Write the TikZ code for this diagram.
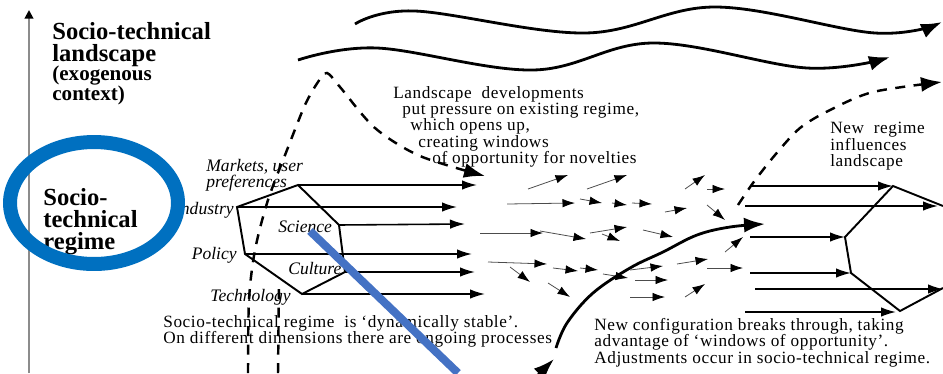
\documentclass[tikz,border=0pt]{standalone}
\usepackage{fontspec}
\setmainfont{Liberation Serif}
\newfontfamily\notefont[LetterSpace=3.5,Ligatures=TeX]{Liberation Serif}
\usetikzlibrary{arrows.meta}
\usetikzlibrary{positioning}

\begin{document}
\begin{tikzpicture}[x=0.02cm,y=-0.02cm]

	\tikzset{wave/.style = {line width=1.6pt,-{Latex[length=0.42cm,width=0.3cm]}}}
	\tikzset{hexline/.style = {line width=1.1pt,line join=miter}}
	\tikzset{edge/.style = {line width=0.9pt,-{Latex[length=0.3cm,width=0.19cm]}}}
	\tikzset{small/.style = {line width=0.45pt,black!70,-{Latex[length=0.25cm,width=0.17cm,color=black]}}}
	\tikzset{dashy/.style = {line width=1.4pt,dash pattern=on 0.2cm off 0.17cm}}
	\tikzset{axis/.style = {line width=1.1pt,black!45,-{Triangle[length=0.17cm,width=0.17cm,color=black]}}}
	\tikzset{dimlabel/.style = {inner sep=0pt,align=left,font=\fontsize{10}{9}\itshape}}
	\tikzset{note/.style = {inner sep=0pt,align=left,anchor=north west,font=\notefont\fontsize{9.8}{9.3}\selectfont}}
	\tikzset{level/.style = {inner sep=0pt,align=left,anchor=north west,font=\fontsize{14}{12.5}\bfseries}}
	\definecolor{ringblue}{RGB}{0,112,192}
	\definecolor{penblue}{RGB}{68,114,196}

	\useasboundingbox (0,0) rectangle (943,373);

	% axis
	\coordinate (ax0) at (29,373);
	\coordinate (ax1) at (29,10);
	\draw[axis] (ax0) -- (ax1);

	% level labels
	\node[level] (land) at (52,22) {Socio-technical\\landscape};
	\node[level,font=\fontsize{12}{11.3}\bfseries] (exo) at (52,66) {(exogenous\\context)};
	\node[level] (regime) at (43,188) {Socio-\\technical\\regime};

	% notes
	\node[note] (press) at (393,86) {Landscape~ developments\\
		\hspace*{0.18cm}put pressure on existing regime,\\
		\hspace*{0.34cm}which opens up,\\
		\hspace*{0.5cm}creating windows\\
		\hspace*{0.78cm}of opportunity for novelties};
	\node[note] (newreg) at (830,122) {New~ regime\\influences\\landscape};
	\node[note] (stable) at (163,315) {Socio-technical regime~ is ‘dynamically stable’.\\On different dimensions there are ongoing processes};
	\node[note] (config) at (594,318) {New configuration breaks through, taking\\advantage of ‘windows of opportunity’.\\Adjustments occur in socio-technical regime.};

	% dimensions
	\node[dimlabel,anchor=west] (mkt) at (206,175) {Markets, user\\preferences};
	\node[dimlabel,anchor=east] (ind) at (234,210) {Industry};
	\node[dimlabel,anchor=east] (pol) at (237,255) {Policy};
	\node[dimlabel,anchor=west] (sci) at (278,227) {Science};
	\node[dimlabel,anchor=west] (cul) at (288,268) {Culture};
	\node[dimlabel,anchor=west] (tec) at (210,297) {Technology};

	% landscape waves
	\draw[wave] plot[smooth,tension=0.6] coordinates {(355,24) (415,11) (585,33) (715,7) (875,33) (942,22)};
	\draw[wave] plot[smooth,tension=0.6] coordinates {(298,60) (377,48) (533,70) (653,43) (807,68) (890,57)};

	% dashed pressure lines
	\draw[dashy,-{Latex[length=0.42cm,width=0.3cm]}] plot[smooth,tension=0.5] coordinates {(248,373) (249,300) (255,250) (268,200) (287,150) (305,105) (318,82) (327,73) (340,87) (375,128) (420,156) (485,176)};
	\coordinate (db0) at (278,373);
	\coordinate (db1) at (279,283);
	\draw[dashy] (db0) -- (db1);
	\draw[dashy,-{Latex[length=0.42cm,width=0.3cm]}] plot[smooth,tension=0.5] coordinates {(738,205) (753,183) (775,155) (800,128) (830,110) (873,92) (942,82)};

	% old regime
	\coordinate (h1) at (298,185);
	\coordinate (h2) at (339,225);
	\coordinate (h3) at (345,272);
	\coordinate (h4) at (302,294);
	\coordinate (h5) at (245,254);
	\coordinate (h6) at (237,207);
	\draw[hexline] (h1) -- (h2) -- (h3) -- (h4) -- (h5) -- (h6) -- cycle;
	\foreach \v/\x/\y in {h1/477/185, h6/457/207, h2/465/224, h5/472/254, h3/475/272, h4/485/294}{
		\coordinate (\v e) at (\x,\y);
		\draw[edge] (\v) -- (\v e);
	}

	% niche arrows
	\foreach \xa/\ya/\xb/\yb [count=\i] in {528/189/568/175, 587/189/627/175, 685/189/705/175, 707/189/725/189,
		507/204/575/203, 580/199/602/203, 612/203/627/205, 632/203/652/204, 665/212/687/208, 707/205/725/220,
		480/233/543/233, 540/231/586/239, 590/233/627/227, 602/234/620/241, 643/230/673/237, 725/252/743/237,
		488/262/547/264, 553/268/578/271, 580/268/598/270, 603/274/628/278, 510/267/530/282, 548/283/570/297,
		630/270/663/266, 677/264/708/259, 707/268/743/268, 635/280/668/280, 630/297/665/297, 685/297/705/284}{
		\coordinate (s\i) at (\xa,\ya);
		\coordinate (t\i) at (\xb,\yb);
		\draw[small] (s\i) -- (t\i);
	}

	% breakthrough
	\draw[wave] plot[smooth,tension=0.6] coordinates {(556,348) (567,323) (593,293) (630,268) (663,252) (697,235) (730,227) (765,224)};
	\coordinate (b0) at (538,375);
	\coordinate (b1) at (554,359);
	\draw[wave] (b0) -- (b1);

	% new regime
	\coordinate (r1) at (893,186);
	\coordinate (r2) at (943,206);
	\coordinate (r3) at (943,288);
	\coordinate (r4) at (900,311);
	\coordinate (r5) at (851,273);
	\coordinate (r6) at (845,237);
	\draw[hexline] (r2) -- (r1) -- (r6) -- (r5) -- (r4) -- (r3);
	\coordinate (q1) at (750,186);
	\coordinate (q2) at (745,206);
	\coordinate (q3) at (750,237);
	\coordinate (q4) at (750,273);
	\coordinate (q5) at (755,289);
	\coordinate (q6) at (745,312);
	\coordinate (q2e) at (938,206);
	\coordinate (q5e) at (943,289);
	\coordinate (q6e) at (896,312);
	\draw[edge] (q1) -- (r1);
	\draw[edge] (q2) -- (q2e);
	\draw[edge] (q3) -- (r6);
	\draw[edge] (q4) -- (r5);
	\draw[edge] (q5) -- (q5e);
	\draw[edge] (q6) -- (q6e);

	% highlight
	\draw[ringblue,line width=0.28cm] (94,203) ellipse [x radius=1.68cm,y radius=1.22cm];
	\coordinate (p0) at (310,231);
	\coordinate (p1) at (458,373);
	\draw[penblue,line width=0.16cm] (p0) -- (p1);
\end{tikzpicture}
\end{document}
